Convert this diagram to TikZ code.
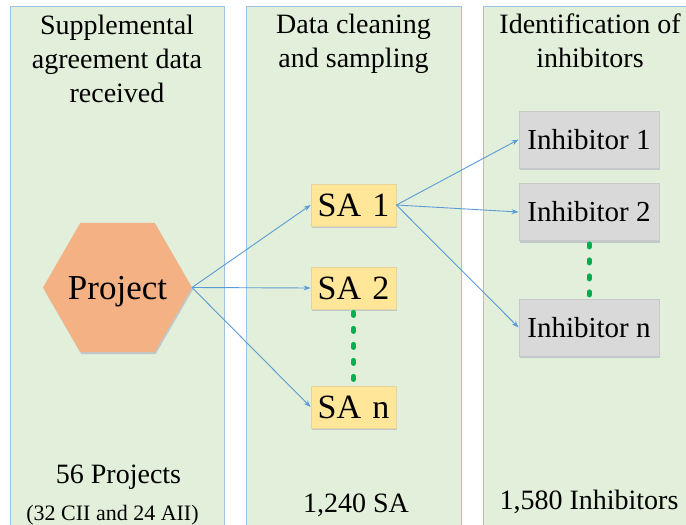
\documentclass[tikz,border=0pt]{standalone}
\usepackage{fontspec}
\setmainfont{Liberation Serif}
\newfontfamily\tnr{Liberation Serif}
\usetikzlibrary{arrows.meta,shapes.geometric,shadows}
\definecolor{panelfill}{HTML}{E2EFDA}
\definecolor{panelline}{HTML}{9DC3E6}
\definecolor{hexfill}{HTML}{F4B183}
\definecolor{safill}{HTML}{FFE699}
\definecolor{saline}{HTML}{E6D49C}
\definecolor{inhfill}{HTML}{D9D9D9}
\definecolor{inhline}{HTML}{C9C9C9}
\definecolor{arrowblue}{HTML}{5B9BD5}
\definecolor{dotgreen}{HTML}{00B050}
\begin{document}
\begin{tikzpicture}[x=1pt,y=-1pt,
  panel/.style={fill=panelfill, draw=panelline, line width=1pt},
  heading/.style={align=center, inner sep=0pt, anchor=north, font=\tnr\fontsize{28}{34}\selectfont},
  softshadow/.style={drop shadow={shadow xshift=1pt, shadow yshift=-2pt, opacity=0.25, fill=gray!70!blue}},
  hexnode/.style={regular polygon, regular polygon sides=6, minimum size=149pt, inner sep=0pt, outer sep=0pt,
    fill=hexfill, draw=none, softshadow},
  hextext/.style={inner sep=0pt, font=\tnr\fontsize{35}{38}\selectfont, text height=23pt, text depth=0pt},
  sabox/.style={rectangle, fill=safill, draw=saline, line width=0.8pt, minimum width=85pt, minimum height=42pt,
    inner sep=0pt, softshadow, font=\tnr\fontsize{34}{36}\selectfont, text height=22.5pt, text depth=0pt},
  inhbox/.style={rectangle, fill=inhfill, draw=inhline, line width=0.8pt, minimum width=140pt, minimum height=57pt,
    inner sep=0pt, softshadow, font=\tnr\fontsize{29}{31}\selectfont, text height=19.2pt, text depth=0pt},
  conn/.style={draw=arrowblue, line width=0.9pt, -{Stealth[length=7pt,width=5pt]}},
  dotline/.style={draw=dotgreen, line width=5pt, line cap=round, dash pattern=on 3pt off 13pt},
  foot/.style={inner sep=0pt, anchor=base}
]
\useasboundingbox (0,0) rectangle (686,525);
\begin{scope}
  \clip (0,0) rectangle (686,525);
  \draw[panel] (10,6) rectangle (224,545);
  \draw[panel] (246,6) rectangle (461,545);
  \draw[panel] (483,6) rectangle (710,545);
\end{scope}

% headings
\node[heading] (h1) at (117,15) {Supplemental\\agreement data\\received};
\node[heading] (h2) at (353.5,14) {Data cleaning\\and sampling};
\node[heading] (h3) at (590,14) {Identification of\\inhibitors};

% nodes
\node[hexnode] (proj) at (117.5,287.5) {};
\node[hextext] (projtext) at (proj.center) {Project};
\node[sabox] (sa1) at (353.5,205) {SA\,\,1};
\node[sabox] (sa2) at (353.5,288) {SA\,\,2};
\node[sabox] (san) at (353.5,407) {SA\,\,n};
\node[inhbox] (i1) at (589,139.5) {Inhibitor 1};
\node[inhbox] (i2) at (589,212) {Inhibitor 2};
\node[inhbox] (in) at (589,327.5) {Inhibitor n};

% connectors
\draw[conn] (proj.east) -- (sa1.west);
\draw[conn] (proj.east) -- (sa2.west);
\draw[conn] (proj.east) -- (san.west);
\draw[conn] (sa1.east) -- (i1.west);
\draw[conn] (sa1.east) -- (i2.west);
\draw[conn] (sa1.east) -- (in.west);

% dotted continuation lines
\draw[dotline, shorten <=3pt, shorten >=3pt] (sa2.south) -- (san.north);
\draw[dotline, shorten <=3pt, shorten >=3pt] (i2.south) -- (in.north);

% footers
\node[foot, font=\tnr\fontsize{28}{30}\selectfont] (f1) at (118.5,483) {56 Projects};
\node[foot, font=\tnr\fontsize{22}{24}\selectfont] (f1b) at (112.5,520) {(32 CII and 24 AII)};
\node[foot, font=\tnr\fontsize{28}{30}\selectfont] (f2) at (356,512) {1,240 SA};
\node[foot, font=\tnr\fontsize{28}{30}\selectfont] (f3) at (589,509) {1,580 Inhibitors};
\end{tikzpicture}
\end{document}
